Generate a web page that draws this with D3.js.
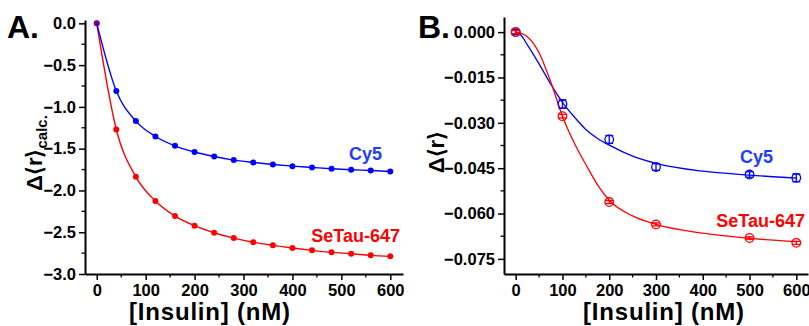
<!DOCTYPE html>
<html>
<head>
<meta charset="utf-8">
<script src="https://cdn.jsdelivr.net/npm/d3@7"></script>
<style>
  body { margin: 0; background: #fff; }
  text { font-family: "Liberation Sans", Arial, sans-serif; font-weight: bold; }
</style>
</head>
<body>
<div id="chart"></div>
<script>
// Panel A data (calculated)
var concA = [0, 40, 80, 120, 160, 200, 240, 280, 320, 360, 400, 440, 480, 520, 560, 600];
var cy5A = [0, -0.81, -1.17, -1.354, -1.466, -1.54, -1.594, -1.637, -1.665, -1.689, -1.709, -1.725, -1.741, -1.753, -1.761, -1.773];
var setauA = [0, -1.271, -1.837, -2.127, -2.307, -2.422, -2.506, -2.57, -2.62, -2.657, -2.689, -2.717, -2.741, -2.757, -2.777, -2.789];

// Panel B data (measured, with errors)
var concB = [0, 100, 200, 300, 500, 600];
var cy5B = [0, -0.0238, -0.0355, -0.0446, -0.0471, -0.0482];
var cy5BErr = [0.0008, 0.0014, 0.0013, 0.0011, 0.0009, 0.0013];
var setauB = [0, -0.0278, -0.0562, -0.0636, -0.0681, -0.0697];
var setauBErr = [0.0005, 0.0006, 0.0005, 0.0005, 0.0004, 0.0005];

// Panel B fit curves
var fitX = [0, 10, 25, 50, 75, 100, 125, 150, 175, 200, 250, 300, 400, 500, 600];
var cy5Fit = [0, -0.0008, -0.0042, -0.0105, -0.0172, -0.0232, -0.0280, -0.0322, -0.0352, -0.0374, -0.0410, -0.0434, -0.0460, -0.0473, -0.0483];
var setauFit = [0, -0.0003, -0.0015, -0.0068, -0.0165, -0.0278, -0.0366, -0.0438, -0.0505, -0.0556, -0.0608, -0.0636, -0.0665, -0.0682, -0.0693];

var xTicks = [0, 100, 200, 300, 400, 500, 600];
var yTicksA = [0, -0.5, -1.0, -1.5, -2.0, -2.5, -3.0];
var yTicksB = [0, -0.015, -0.030, -0.045, -0.060, -0.075];

var blue = "#0000ff", red = "#ff0000";
var blueText = "#1e3cff";

var svg = d3.select("#chart").append("svg")
  .attr("width", 809)
  .attr("height", 326);

function drawAxes(x, y, yTicks, yMinor, yFmt) {
  var g = svg.append("g");
  var x0 = x.range()[0], y0 = y.range()[0];

  // minor ticks
  var xMinor = d3.range(50, 600, 100);
  g.selectAll(".xminor").data(xMinor).enter().append("line")
    .attr("x1", x).attr("x2", x)
    .attr("y1", y0).attr("y2", y0 + 3.5)
    .attr("stroke", "#000").attr("stroke-width", 1.3);
  g.selectAll(".yminor").data(yMinor).enter().append("line")
    .attr("x1", x0).attr("x2", x0 - 3.5)
    .attr("y1", y).attr("y2", y)
    .attr("stroke", "#000").attr("stroke-width", 1.3);

  var xa = g.append("g").attr("transform", "translate(0," + y0 + ")")
    .call(d3.axisBottom(x).tickValues(xTicks).tickSize(6).tickSizeOuter(0).tickPadding(4));
  var ya = g.append("g").attr("transform", "translate(" + x0 + ",0)")
    .call(d3.axisLeft(y).tickValues(yTicks).tickFormat(yFmt).tickSize(6).tickSizeOuter(0).tickPadding(3));

  [xa, ya].forEach(function(a) {
    a.select(".domain").attr("stroke-width", 2);
    a.selectAll(".tick line").attr("stroke-width", 1.5);
    a.selectAll(".tick text")
      .attr("font-size", 16.5)
      .attr("font-family", "Liberation Sans, Arial, sans-serif")
      .attr("font-weight", "bold")
      .attr("fill", "#000");
  });
}

// ---------- Panel A ----------
var xA = d3.scaleLinear().domain([-24, 626]).range([85, 403]);
var yA = d3.scaleLinear().domain([-3, 0.04]).range([274, 20]);

drawAxes(xA, yA, yTicksA, d3.range(-2.75, 0, 0.5), d3.format(".1f"));

var lineA = d3.line()
  .x(function(d) { return xA(d[0]); })
  .y(function(d) { return yA(d[1]); })
  .curve(d3.curveMonotoneX);

[[setauA, red], [cy5A, blue]].forEach(function(s) {
  var pts = concA.map(function(c, i) { return [c, s[0][i]]; });
  svg.append("path").datum(pts)
    .attr("d", lineA)
    .attr("fill", "none")
    .attr("stroke", s[1])
    .attr("stroke-width", 1.4);
  svg.append("g").selectAll("circle").data(pts).enter().append("circle")
    .attr("cx", function(d) { return xA(d[0]); })
    .attr("cy", function(d) { return yA(d[1]); })
    .attr("r", 3)
    .attr("fill", s[1])
    .attr("fill-opacity", function(d) { return d[0] === 0 && s[1] === blue ? 0.5 : 1; });
});

svg.append("text").attr("x", 382).attr("y", 160).attr("text-anchor", "end")
  .attr("font-size", 18).attr("fill", blueText).text("Cy5");
svg.append("text").attr("x", 400).attr("y", 242).attr("text-anchor", "end")
  .attr("font-size", 18).attr("fill", red).text("SeTau-647");

svg.append("text").attr("x", 7).attr("y", 38).attr("font-size", 32).text("A.");

var ylabA = svg.append("text")
  .attr("transform", "translate(42,153) rotate(-90)")
  .attr("text-anchor", "middle")
  .attr("font-size", 22);
ylabA.append("tspan").text("Δ⟨r⟩");
ylabA.append("tspan").attr("font-size", 15).attr("dy", 5).text("calc.");

svg.append("text").attr("x", 210).attr("y", 320).attr("text-anchor", "middle")
  .attr("font-size", 24).attr("letter-spacing", 0.8).text("[Insulin] (nM)");

// ---------- Panel B ----------
var xB = d3.scaleLinear().domain([-25, 625]).range([504, 808]);
var yB = d3.scaleLinear().domain([-0.08, 0.005]).range([274, 17]);

drawAxes(xB, yB, yTicksB, d3.range(-0.0675, 0, 0.015), d3.format(".3f"));

var lineB = d3.line()
  .x(function(d) { return xB(d[0]); })
  .y(function(d) { return yB(d[1]); })
  .curve(d3.curveMonotoneX);

[[cy5Fit, cy5B, cy5BErr, blue], [setauFit, setauB, setauBErr, red]].forEach(function(s) {
  var fit = fitX.map(function(c, i) { return [c, s[0][i]]; });
  svg.append("path").datum(fit)
    .attr("d", lineB)
    .attr("fill", "none")
    .attr("stroke", s[3])
    .attr("stroke-width", 1.3);
});

[[cy5B, cy5BErr, blue], [setauB, setauBErr, red]].forEach(function(s) {
  var pts = concB.map(function(c, i) { return { x: c, y: s[0][i], e: s[1][i] }; });
  var g = svg.append("g").attr("stroke", s[2]).attr("fill", "none").attr("stroke-width", 1.3);
  var m = g.selectAll("g").data(pts).enter().append("g");
  m.append("line")
    .attr("x1", function(d) { return xB(d.x); }).attr("x2", function(d) { return xB(d.x); })
    .attr("y1", function(d) { return yB(d.y - d.e); }).attr("y2", function(d) { return yB(d.y + d.e); });
  m.append("line")
    .attr("x1", function(d) { return xB(d.x) - 4; }).attr("x2", function(d) { return xB(d.x) + 4; })
    .attr("y1", function(d) { return yB(d.y - d.e); }).attr("y2", function(d) { return yB(d.y - d.e); });
  m.append("line")
    .attr("x1", function(d) { return xB(d.x) - 4; }).attr("x2", function(d) { return xB(d.x) + 4; })
    .attr("y1", function(d) { return yB(d.y + d.e); }).attr("y2", function(d) { return yB(d.y + d.e); });
  m.append("circle")
    .attr("cx", function(d) { return xB(d.x); })
    .attr("cy", function(d) { return yB(d.y); })
    .attr("r", 4.3);
});

svg.append("text").attr("x", 773).attr("y", 163).attr("text-anchor", "end")
  .attr("font-size", 18).attr("fill", blueText).text("Cy5");
svg.append("text").attr("x", 805).attr("y", 227).attr("text-anchor", "end")
  .attr("font-size", 18).attr("fill", red).text("SeTau-647");

svg.append("text").attr("x", 418).attr("y", 38).attr("font-size", 32).text("B.");

svg.append("text")
  .attr("transform", "translate(444,152) rotate(-90)")
  .attr("text-anchor", "middle")
  .attr("font-size", 22)
  .text("Δ⟨r⟩");

svg.append("text").attr("x", 664).attr("y", 320).attr("text-anchor", "middle")
  .attr("font-size", 24).attr("letter-spacing", 0.8).text("[Insulin] (nM)");
</script>
</body>
</html>
